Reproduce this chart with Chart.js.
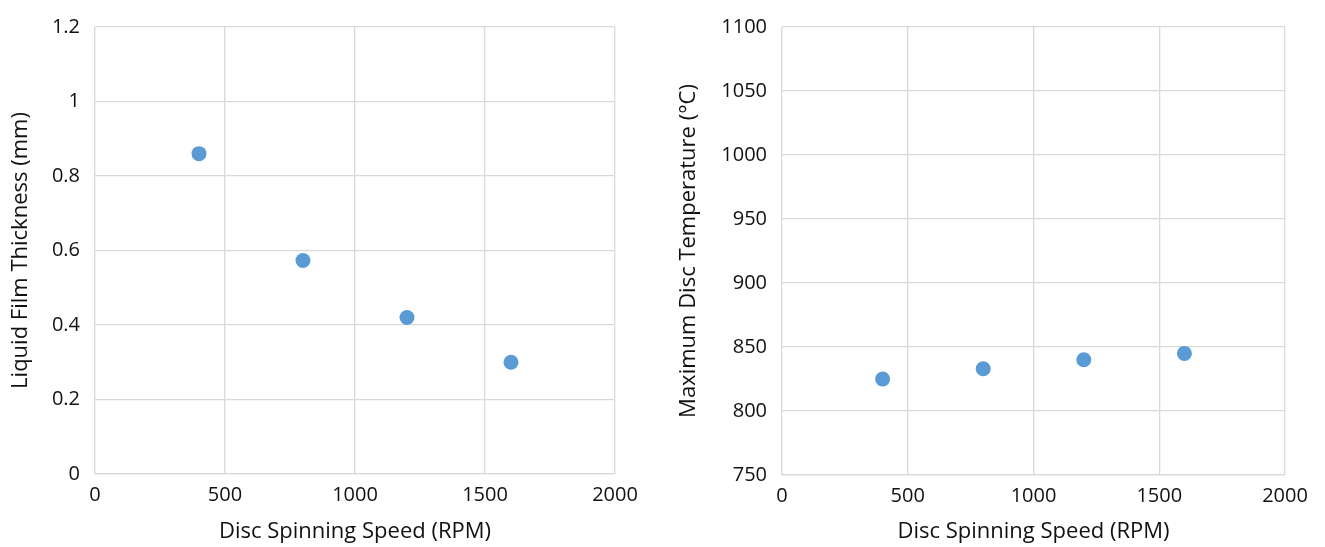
<!DOCTYPE html>
<html>
<head>
<meta charset="utf-8">
<script src="https://cdn.jsdelivr.net/npm/chart.js@4.4.0/dist/chart.umd.min.js"></script>
<style>
  html, body { margin: 0; padding: 0; background: #fff; }
  #wrap { position: relative; width: 1325px; height: 547px; }
  .box { position: absolute; top: 0; height: 547px; }
  #leftBox { left: 0; width: 660px; }
  #rightBox { left: 660px; width: 665px; }
</style>
</head>
<body>
<div id="wrap">
  <div class="box" id="leftBox"><canvas id="thicknessChart"></canvas></div>
  <div class="box" id="rightBox"><canvas id="temperatureChart"></canvas></div>
</div>
<script>
"use strict";

// disc speeds (RPM) shared by both charts
const speeds = [400, 800, 1200, 1600];
const filmThickness = [0.86, 0.573, 0.42, 0.3];
const maxTemperature = [825, 833, 840, 845];

const speedTicks = [0, 500, 1000, 1500, 2000];
const thicknessTicks = [0, 0.2, 0.4, 0.6, 0.8, 1, 1.2];
const temperatureTicks = [750, 800, 850, 900, 950, 1000, 1050, 1100];

const FONT = "'Open Sans', Lato, sans-serif";
const GRID = "#d9d9d9";
const TEXT = "#111111";
const DOT = "#5b9bd5";

Chart.defaults.font.family = FONT;
Chart.defaults.color = TEXT;

function toPoints(xs, ys) {
  return xs.map((x, i) => ({ x: x, y: ys[i] }));
}

function makeChart(canvasId, yValues, yTicks, yTitle, yAxisWidth, titleGap, padding) {
  const ctx = document.getElementById(canvasId);
  return new Chart(ctx, {
    type: "scatter",
    data: {
      datasets: [
        {
          data: toPoints(speeds, yValues),
          backgroundColor: DOT,
          borderColor: DOT,
          pointRadius: 7.5,
          pointHoverRadius: 7.5,
          borderWidth: 0,
        },
      ],
    },
    options: {
      responsive: true,
      maintainAspectRatio: false,
      animation: false,
      layout: { padding: padding },
      plugins: {
        legend: { display: false },
        tooltip: { enabled: false },
      },
      scales: {
        x: {
          type: "linear",
          min: speedTicks[0],
          max: speedTicks[speedTicks.length - 1],
          afterBuildTicks: (scale) => {
            scale.ticks = speedTicks.map((v) => ({ value: v }));
          },
          afterFit: (scale) => {
            scale.height = 547 - 474 - padding.top + 23;
          },
          grid: { color: GRID, lineWidth: 1.3, drawTicks: false },
          border: { color: GRID, width: 1.3 },
          ticks: {
            padding: 9,
            font: { size: 20 },
            color: TEXT,
            callback: (v) => String(v),
          },
          title: {
            display: true,
            text: "Disc Spinning Speed (RPM)",
            font: { size: 22 },
            color: TEXT,
            padding: { top: 0, bottom: 2 },
          },
        },
        y: {
          type: "linear",
          min: yTicks[0],
          max: yTicks[yTicks.length - 1],
          afterBuildTicks: (scale) => {
            scale.ticks = yTicks.map((v) => ({ value: v }));
          },
          afterFit: (scale) => {
            scale.width = yAxisWidth;
          },
          grid: { color: GRID, lineWidth: 1.3, drawTicks: false },
          border: { display: false },
          ticks: {
            padding: 15,
            font: { size: 20 },
            color: TEXT,
            callback: (v) => String(v),
          },
          title: {
            display: true,
            text: yTitle,
            font: { size: 22 },
            color: TEXT,
            padding: { top: titleGap, bottom: 0 },
          },
        },
      },
    },
  });
}

makeChart("thicknessChart", filmThickness, thicknessTicks,
  "Liquid Film Thickness (mm)", 95, 8, { left: 0, right: 45, top: 23, bottom: 0 });
makeChart("temperatureChart", maxTemperature, temperatureTicks,
  "Maximum Disc Temperature (\u00b0C)", 122, 16, { left: 0, right: 40, top: 24, bottom: 0 });
</script>
</body>
</html>
